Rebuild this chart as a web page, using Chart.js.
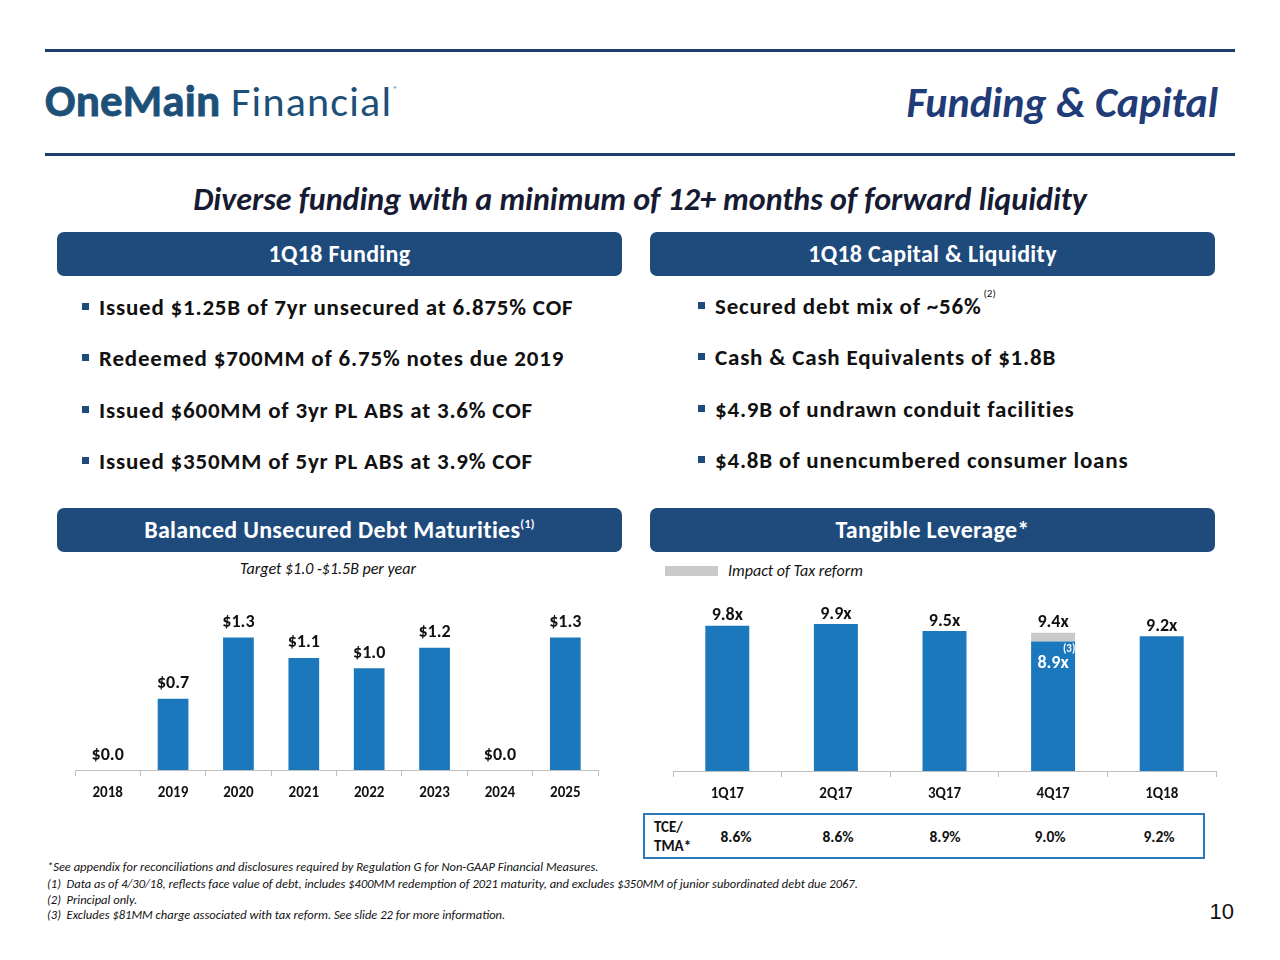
<!DOCTYPE html>
<html>
<head>
<meta charset="utf-8">
<title>Funding &amp; Capital</title>
<script src="https://cdn.jsdelivr.net/npm/chart.js@4.4.1/dist/chart.umd.min.js"></script>
<style>
  html, body { margin: 0; padding: 0; background: #fff; }
  body {
    width: 1280px; height: 960px; position: relative; overflow: hidden;
    font-family: Carlito, Lato, 'Open Sans', sans-serif; color: #111;
  }
  .abs { position: absolute; white-space: nowrap; }
  sup { vertical-align: baseline; position: relative; line-height: 0; }
  .rule { position: absolute; left: 45px; width: 1190px; height: 3px; background: #1d3e6c; }
  .logo { left: 45px; top: 73px; font-size: 42px; color: #1d5079; }
  .logo b { font-weight: 900; font-size: 45px; letter-spacing: 0.2px; -webkit-text-stroke: 0.8px #1d5079; }
  .logo span { font-weight: 400; letter-spacing: 1.2px; }
  .logo sup { font-size: 9px; top: -24px; margin-left: 1px; }
  .title { right: 62px; top: 77px; font-size: 42px; font-weight: 700; font-style: italic; color: #1f3b78; }
  .subtitle { left: 0; width: 1280px; text-align: center; top: 180px; font-size: 32px; font-weight: 700; font-style: italic; color: #161b33; }
  .header {
    position: absolute; height: 44px; line-height: 44px; border-radius: 7px;
    background: #1e4a7c; color: #fff; font-weight: 700; font-size: 24px; letter-spacing: 0.3px; text-align: center;
  }
  .header sup { font-size: 12px; top: -10px; }
  .bullet { font-size: 23px; font-weight: 700; line-height: 30px; letter-spacing: 0.8px; }
  .bullet::before {
    content: ''; position: absolute; left: -17px; top: 11px; width: 7px; height: 7px; background: #1e4a7c;
  }
  .bullet sup { font-size: 11px; font-weight: 400; letter-spacing: 0; top: -17px; margin-left: 2px; }
  .note { font-size: 16px; font-style: italic; color: #111; }
  .legend-box { left: 665px; top: 566px; width: 53px; height: 10px; background: #c9c9c9; }
  .tce {
    position: absolute; left: 643px; top: 813px; width: 558px; height: 42px;
    border: 2px solid #2e78bd; background: #fff;
  }
  .tce .lbl { left: 9px; top: 3px; font-size: 15px; font-weight: 700; line-height: 19px; }
  .tce .val { top: 12px; font-size: 15.5px; font-weight: 700; transform: translateX(-50%); }
  .foot { left: 47px; font-size: 12.5px; font-style: italic; color: #111; }
  .page { right: 46px; top: 899px; font-size: 22px; font-family: 'Liberation Sans', Arial, sans-serif; color: #111; }
  canvas { position: absolute; }
</style>
</head>
<body>
<div class="rule" style="top:49px"></div>
<div class="rule" style="top:153px"></div>

<div class="abs logo"><b>OneMain</b><span> Financial</span><sup>®</sup></div>
<div class="abs title">Funding &amp; Capital</div>
<div class="abs subtitle">Diverse funding with a minimum of 12+ months of forward liquidity</div>

<div class="header" style="left:57px; top:232px; width:565px;">1Q18 Funding</div>
<div class="header" style="left:650px; top:232px; width:565px;">1Q18 Capital &amp; Liquidity</div>

<div class="abs bullet" style="left:99px; top:292px;">Issued $1.25B of 7yr unsecured at 6.875% COF</div>
<div class="abs bullet" style="left:99px; top:343px;">Redeemed $700MM of 6.75% notes due 2019</div>
<div class="abs bullet" style="left:99px; top:395px;">Issued $600MM of 3yr PL ABS at 3.6% COF</div>
<div class="abs bullet" style="left:99px; top:446px;">Issued $350MM of 5yr PL ABS at 3.9% COF</div>

<div class="abs bullet" style="left:715px; top:291px;">Secured debt mix of ~56%<sup>(2)</sup></div>
<div class="abs bullet" style="left:715px; top:342px;">Cash &amp; Cash Equivalents of $1.8B</div>
<div class="abs bullet" style="left:715px; top:394px;">$4.9B of undrawn conduit facilities</div>
<div class="abs bullet" style="left:715px; top:445px;">$4.8B of unencumbered consumer loans</div>

<div class="header" style="left:57px; top:508px; width:565px;">Balanced Unsecured Debt Maturities<sup>(1)</sup></div>
<div class="header" style="left:650px; top:508px; width:565px;">Tangible Leverage*</div>

<div class="abs note" style="left:240px; top:559px;">Target $1.0 -$1.5B per year</div>
<div class="abs legend-box"></div>
<div class="abs note" style="left:728px; top:561px;">Impact of Tax reform</div>

<canvas id="maturity-chart" width="550" height="203" style="left:60px; top:607px;"></canvas>
<canvas id="leverage-chart" width="564" height="215" style="left:660px; top:596px;"></canvas>

<div class="tce" id="tce-box">
  <div class="abs lbl">TCE/<br>TMA*</div>
</div>

<div class="abs foot" style="top:859px;">*See appendix for reconciliations and disclosures required by Regulation G for Non-GAAP Financial Measures.</div>
<div class="abs foot" style="top:876px;">(1)&nbsp; Data as of 4/30/18, reflects face value of debt, includes $400MM redemption of 2021 maturity, and excludes $350MM of junior subordinated debt due 2067.</div>
<div class="abs foot" style="top:892px;">(2)&nbsp; Principal only.</div>
<div class="abs foot" style="top:907px;">(3)&nbsp; Excludes $81MM charge associated with tax reform. See slide 22 for more information.</div>
<div class="abs page">10</div>

<script>
const FONT = "Carlito, Lato, 'Open Sans', sans-serif";
const BAR_BLUE = '#1c78bd';
const TAX_GRAY = '#c9c9c9';

const maturityYears = ['2018', '2019', '2020', '2021', '2022', '2023', '2024', '2025'];
const maturityValues = [0.0, 0.7, 1.3, 1.1, 1.0, 1.2, 0.0, 1.3];

const leverageQuarters = ['1Q17', '2Q17', '3Q17', '4Q17', '1Q18'];
const leverageBase = [9.8, 9.9, 9.5, 8.9, 9.2];
const taxImpact = [0, 0, 0, 0.5, 0];
const tceTma = ['8.6%', '8.6%', '8.9%', '9.0%', '9.2%'];
const tceOffsets = [736, 838, 945, 1050, 1159];

const xAxis = {
    grid: { display: true, drawOnChartArea: false, color: '#bfbfbf', tickLength: 6, offset: true },
    border: { display: true, color: '#bfbfbf', width: 1 },
    ticks: { color: '#111', padding: 8, font: { family: FONT, size: 15, weight: 'bold' } },
};

const maturityLabels = {
    id: 'maturityLabels',
    afterDatasetsDraw(chart) {
        const { ctx } = chart;
        ctx.save();
        ctx.font = `bold 18px ${FONT}`;
        ctx.fillStyle = '#111';
        ctx.textAlign = 'center';
        ctx.textBaseline = 'middle';
        chart.getDatasetMeta(0).data.forEach((bar, i) => {
            ctx.fillText(`$${maturityValues[i].toFixed(1)}`, bar.x, bar.y - 15);
        });
        ctx.restore();
    },
};

const leverageLabels = {
    id: 'leverageLabels',
    afterDatasetsDraw(chart) {
        const { ctx } = chart;
        const baseBars = chart.getDatasetMeta(0).data;
        const topBars = chart.getDatasetMeta(1).data;
        ctx.save();
        ctx.textAlign = 'center';
        ctx.textBaseline = 'middle';
        topBars.forEach((bar, i) => {
            ctx.font = `bold 18px ${FONT}`;
            ctx.fillStyle = '#111';
            ctx.fillText(`${(leverageBase[i] + taxImpact[i]).toFixed(1)}x`, bar.x, bar.y - 10);
            if (taxImpact[i] > 0) {
                const base = baseBars[i];
                ctx.fillStyle = '#fff';
                ctx.fillText(`${leverageBase[i].toFixed(1)}x`, base.x, base.y + 22);
                ctx.font = `bold 11px ${FONT}`;
                ctx.fillText('(3)', base.x + 16, base.y + 8);
            }
        });
        ctx.restore();
    },
};

new Chart(document.getElementById('maturity-chart').getContext('2d'), {
    type: 'bar',
    data: {
        labels: maturityYears,
        datasets: [{
            data: maturityValues,
            backgroundColor: BAR_BLUE,
            borderWidth: 0,
            categoryPercentage: 1,
            barPercentage: 0.47,
        }],
    },
    options: {
        responsive: false,
        animation: false,
        layout: { padding: { left: 15, right: 12, top: 0, bottom: 0 } },
        plugins: { legend: { display: false }, tooltip: { enabled: false } },
        scales: {
            x: xAxis,
            y: { display: false, min: 0, max: 1.6 },
        },
    },
    plugins: [maturityLabels],
});

new Chart(document.getElementById('leverage-chart').getContext('2d'), {
    type: 'bar',
    data: {
        labels: leverageQuarters,
        datasets: [
            {
                label: 'Tangible Leverage',
                data: leverageBase,
                backgroundColor: BAR_BLUE,
                borderWidth: 0,
                categoryPercentage: 1,
                barPercentage: 0.405,
            },
            {
                label: 'Impact of Tax reform',
                data: taxImpact,
                backgroundColor: TAX_GRAY,
                borderWidth: 0,
                categoryPercentage: 1,
                barPercentage: 0.405,
            },
        ],
    },
    options: {
        responsive: false,
        animation: false,
        layout: { padding: { left: 13, right: 8, top: 0, bottom: 0 } },
        plugins: { legend: { display: false }, tooltip: { enabled: false } },
        scales: {
            x: { ...xAxis, stacked: true },
            y: { display: false, stacked: true, min: 1.5, max: 11.5 },
        },
    },
    plugins: [leverageLabels],
});

const tceBox = document.getElementById('tce-box');
tceTma.forEach((value, i) => {
    const el = document.createElement('div');
    el.className = 'abs val';
    el.style.left = `${tceOffsets[i] - 645}px`;
    el.textContent = value;
    tceBox.appendChild(el);
});
</script>
</body>
</html>
